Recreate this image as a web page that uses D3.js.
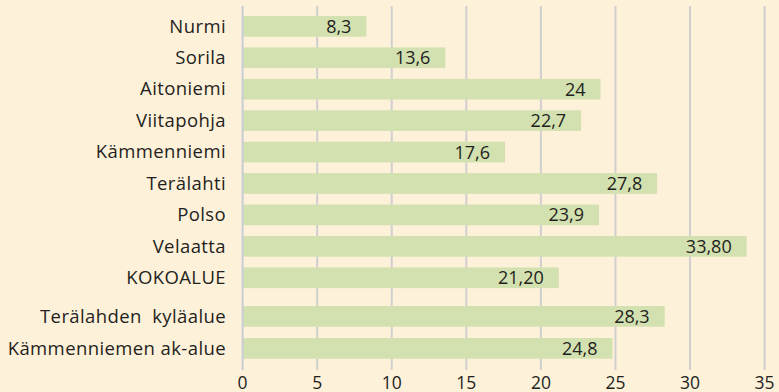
<!DOCTYPE html>
<html>
<head>
<meta charset="utf-8">
<script src="https://cdn.jsdelivr.net/npm/d3@7"></script>
<style>
  html, body { margin: 0; padding: 0; background: #fef1da; }
  svg { display: block; }
  text { font-family: "Open Sans", sans-serif; fill: #231f20; }
</style>
</head>
<body>
<svg id="chart" width="779" height="392"></svg>
<script>
// Village areas (main group) and the two sub-areas listed below them
const areas = ["Nurmi", "Sorila", "Aitoniemi", "Viitapohja", "Kämmenniemi",
               "Terälahti", "Polso", "Velaatta", "KOKOALUE"];
const areaValues = [8.3, 13.6, 24, 22.7, 17.6, 27.8, 23.9, 33.8, 21.2];
const areaLabels = ["8,3", "13,6", "24", "22,7", "17,6", "27,8", "23,9", "33,80", "21,20"];

const subAreas = ["Terälahden  kyläalue", "Kämmenniemen ak-alue"];
const subValues = [28.3, 24.8];
const subLabels = ["28,3", "24,8"];

const xTicks = [0, 5, 10, 15, 20, 25, 30, 35];

const svg = d3.select("#chart");
const left = 242.6, right = 764.6, gridTop = 6, gridBottom = 370;

const x = d3.scaleLinear().domain([0, 35]).range([left, right]);

const yMain = d3.scaleBand().domain(areas).range([16, 288.1])
  .paddingInner(0.342).paddingOuter(0);
const ySub = d3.scaleBand().domain(subAreas).range([306, 358.7])
  .paddingInner(0.353).paddingOuter(0);

// vertical gridlines
svg.append("g").selectAll("line").data(xTicks.slice(1)).join("line")
  .attr("x1", d => x(d)).attr("x2", d => x(d))
  .attr("y1", gridTop).attr("y2", gridBottom)
  .attr("stroke", "#cfcfd0").attr("stroke-width", 2);

// x tick labels
svg.append("g").selectAll("text").data(xTicks).join("text")
  .attr("x", d => x(d)).attr("y", 389)
  .attr("text-anchor", "middle")
  .style("font-size", "17.5px")
  .text(d => d);

const rows = areas.map((c, i) => ({ name: c, value: areaValues[i], label: areaLabels[i], y: yMain }))
  .concat(subAreas.map((c, i) => ({ name: c, value: subValues[i], label: subLabels[i], y: ySub })));

const g = svg.append("g");
g.selectAll("rect").data(rows).join("rect")
  .attr("x", x(0))
  .attr("y", d => d.y(d.name))
  .attr("width", d => x(d.value) - x(0))
  .attr("height", d => d.y.bandwidth())
  .attr("fill", "#d3e0b0");

// value labels inside the bar end
g.selectAll("text.val").data(rows).join("text")
  .attr("class", "val")
  .attr("x", d => x(d.value) - 15)
  .attr("y", d => d.y(d.name) + d.y.bandwidth() / 2 + 6.5)
  .attr("text-anchor", "end")
  .style("font-size", "18px")
  .text(d => d.label);

// category labels
g.selectAll("text.cat").data(rows).join("text")
  .attr("class", "cat")
  .attr("x", 226)
  .attr("y", d => d.y(d.name) + d.y.bandwidth() / 2 + 6.3)
  .attr("text-anchor", "end")
  .style("font-size", "18.5px")
  .style("letter-spacing", "0.4px")
  .style("white-space", "pre")
  .text(d => d.name);

// left axis line
svg.append("line")
  .attr("x1", x(0)).attr("x2", x(0))
  .attr("y1", gridTop).attr("y2", gridBottom)
  .attr("stroke", "#c8ccd6").attr("stroke-width", 2);
</script>
</body>
</html>
